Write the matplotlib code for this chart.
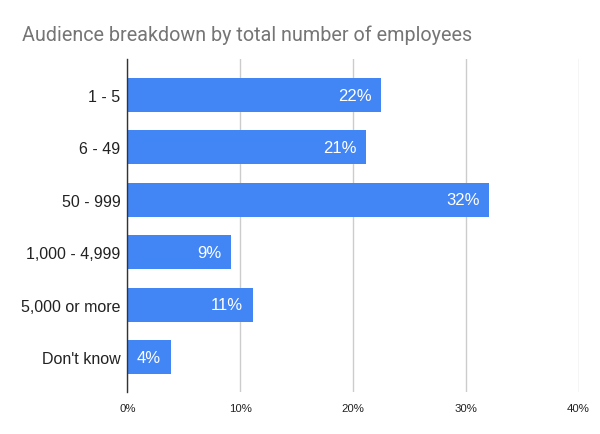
import matplotlib
matplotlib.use("Agg")
import matplotlib.pyplot as plt
from matplotlib.ticker import FuncFormatter

categories = ["1 - 5", "6 - 49", "50 - 999", "1,000 - 4,999", "5,000 or more", "Don't know"]
values = [22.5, 21.2, 32.1, 9.2, 11.1, 3.85]
labels = ["22%", "21%", "32%", "9%", "11%", "4%"]
xticks = [0, 10, 20, 30, 40]

W, H = 600, 435
fig = plt.figure(figsize=(W / 100, H / 100), dpi=100)
left, right, top, bottom = 127.3, 578.5, 60, 392.7
ax = fig.add_axes([left / W, 1 - bottom / H, (right - left) / W, (bottom - top) / H])

ypos = list(range(len(categories)))
ax.barh(ypos, values, height=0.65, color="#4285F4", zorder=3)
ax.set_ylim(5.66, -0.687)
ax.set_xlim(0, 40)

for y, v, lab in zip(ypos, values, labels):
    ax.annotate(lab, xy=(v, y), xytext=(-7, 0), textcoords="offset points",
                ha="right", va="center", color="white", fontsize=12,
                family=["Liberation Sans", "DejaVu Sans"], zorder=4)

ax.set_yticks(ypos)
ax.set_yticklabels(categories, fontsize=11.5, family=["Liberation Sans", "DejaVu Sans"], color="#222222")
ax.set_xticks(xticks)
ax.xaxis.set_major_formatter(FuncFormatter(lambda x, p: f"{int(x)}%"))
for t in ax.get_xticklabels():
    t.set_fontsize(8.2)
    t.set_family(["Liberation Sans", "DejaVu Sans"])
    t.set_color("#222222")
ax.tick_params(axis="y", length=0, pad=5)
ax.tick_params(axis="x", length=0, pad=8)

ax.grid(axis="x", color="#cccccc", linewidth=1, zorder=0)
for s in ["top", "right", "bottom"]:
    ax.spines[s].set_visible(False)
ax.spines["left"].set_color("#333333")
ax.spines["left"].set_linewidth(1)
ax.spines["left"].set_zorder(5)

fig.text(22.5 / W, 1 - 41 / H, "Audience breakdown by total number of employees",
         fontsize=14.2, color="#757575", family=["Roboto", "DejaVu Sans"],
         ha="left", va="baseline")

fig.savefig("out.png", dpi=100)
